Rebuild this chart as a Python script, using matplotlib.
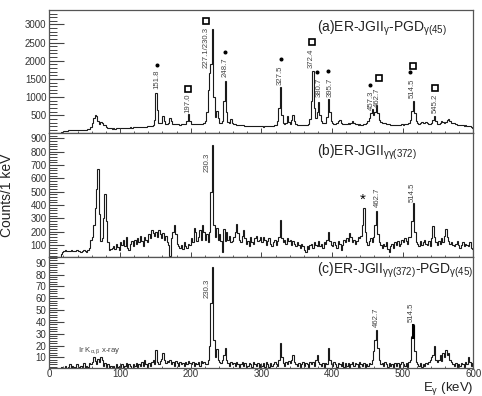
import numpy as np
import matplotlib
matplotlib.use('Agg')
import matplotlib.pyplot as plt

plt.rcParams['font.family'] = ['Liberation Sans', 'DejaVu Sans']
plt.rcParams['mathtext.fontset'] = 'custom'
plt.rcParams['mathtext.rm'] = 'Liberation Sans'
plt.rcParams['mathtext.it'] = 'Liberation Sans'

# spectra, 2 keV bins from 0 to 600 keV, counts per 1 keV
bin_width = 2
spec_a = [0, 0, 0, 0, 0, 0, 0, 0, 30, 50,
          60, 70, 80, 85, 90, 95, 100, 100, 95, 100,
          95, 100, 95, 100, 95, 100, 105, 110, 130, 180,
          280, 430, 500, 470, 330, 250, 310, 300, 220, 240,
          190, 160, 150, 140, 135, 140, 135, 140, 145, 150,
          145, 150, 155, 150, 160, 155, 160, 165, 160, 170,
          170, 165, 175, 180, 170, 180, 185, 175, 190, 195,
          200, 195, 210, 230, 360, 1100, 650, 300, 280, 290,
          480, 330, 260, 250, 300, 420, 340, 270, 255, 250,
          250, 255, 245, 260, 250, 250, 265, 330, 535, 330,
          260, 250, 255, 260, 250, 260, 265, 255, 270, 290,
          330, 600, 1200, 1650, 1900, 2880, 1000, 450, 620, 420,
          300, 280, 350, 900, 1450, 600, 320, 300, 400, 290,
          260, 250, 245, 240, 235, 230, 225, 220, 215, 210,
          215, 210, 205, 210, 200, 205, 200, 195, 200, 195,
          195, 190, 200, 195, 205, 200, 210, 205, 215, 230,
          240, 330, 700, 1290, 500, 280, 260, 300, 490, 320,
          270, 380, 515, 350, 260, 240, 230, 225, 230, 220,
          225, 230, 240, 260, 400, 900, 1705, 700, 420, 600,
          870, 500, 330, 300, 280, 280, 450, 950, 600, 330,
          280, 270, 260, 300, 350, 380, 300, 260, 250, 270,
          260, 280, 250, 300, 330, 280, 260, 250, 240, 250,
          245, 240, 250, 260, 300, 330, 420, 560, 674, 520,
          600, 792, 560, 380, 320, 300, 290, 280, 270, 260,
          250, 240, 235, 230, 225, 220, 225, 230, 240, 250,
          245, 250, 260, 270, 300, 380, 620, 883, 560, 350,
          280, 260, 300, 320, 280, 300, 320, 290, 260, 250,
          280, 380, 472, 330, 260, 260, 300, 330, 310, 280,
          320, 360, 400, 340, 300, 280, 300, 250, 240, 230,
          230, 220, 225, 215, 220, 210, 205, 200, 180, 160]

spec_b = [0, 0, 0, 0, 0, 0, 0, 0, 30, 50,
          55, 60, 52, 58, 55, 60, 55, 58, 52, 60,
          55, 58, 50, 55, 60, 55, 50, 60, 80, 140,
          160, 250, 380, 520, 672, 330, 130, 150, 300, 482,
          280, 120, 60, 70, 80, 95, 70, 110, 85, 60,
          120, 100, 140, 90, 160, 80, 60, 110, 130, 90,
          140, 110, 150, 120, 170, 130, 90, 160, 140, 120,
          180, 150, 210, 190, 170, 200, 160, 215, 180, 150,
          190, 140, 170, 120, 100, 15, 150, 200, 252, 180,
          110, 90, 80, 100, 70, 120, 90, 80, 110, 100,
          150, 120, 230, 200, 130, 160, 210, 140, 250, 200,
          140, 180, 120, 200, 500, 852, 250, 160, 225, 140,
          180, 130, 45, 220, 130, 200, 140, 170, 120, 130,
          160, 200, 260, 190, 140, 120, 170, 215, 150, 110,
          130, 90, 160, 120, 110, 150, 170, 130, 140, 160,
          120, 160, 140, 100, 130, 150, 110, 90, 120, 140,
          100, 130, 160, 285, 150, 120, 140, 110, 150, 130,
          140, 100, 130, 110, 90, 120, 100, 80, 110, 90,
          60, 50, 90, 70, 100, 110, 80, 120, 100, 90,
          130, 90, 110, 80, 120, 110, 140, 200, 130, 100,
          90, 120, 100, 80, 130, 110, 60, 100, 140, 120,
          150, 130, 190, 160, 120, 140, 110, 130, 160, 150,
          170, 250, 377, 200, 120, 100, 130, 150, 120, 160,
          250, 352, 180, 120, 100, 80, 110, 90, 120, 70,
          50, 90, 110, 80, 120, 100, 130, 90, 110, 140,
          120, 150, 130, 110, 160, 160, 280, 415, 200, 120,
          110, 90, 130, 100, 120, 140, 110, 100, 130, 90,
          150, 240, 160, 120, 100, 130, 110, 150, 120, 170,
          220, 160, 130, 110, 120, 100, 90, 110, 130, 100,
          80, 100, 120, 90, 110, 100, 90, 120, 80, 70]

spec_c = [0, 0, 0, 0, 0, 0, 0, 0, 2, 0,
          1, 3, 0, 2, 4, 1, 3, 2, 0, 4,
          2, 1, 3, 2, 5, 1, 3, 2, 5, 4,
          6, 10, 7, 4, 9, 6, 10, 8, 3, 5,
          2, 4, 1, 3, 2, 3, 1, 4, 2, 3,
          2, 4, 1, 3, 5, 2, 4, 3, 1, 4,
          3, 5, 2, 4, 3, 6, 3, 8, 4, 2,
          5, 3, 6, 8, 4, 16, 6, 4, 7, 9,
          14, 8, 5, 7, 6, 8, 4, 6, 3, 7,
          5, 3, 6, 4, 5, 3, 6, 4, 7, 5,
          4, 6, 3, 5, 4, 6, 3, 7, 5, 6,
          4, 4, 8, 20, 56, 86, 25, 10, 17, 8,
          6, 5, 8, 12, 18, 8, 5, 3, 6, 4,
          5, 3, 6, 4, 2, 4, 6, 3, 5, 2,
          3, 5, 4, 2, 6, 4, 3, 5, 2, 4,
          3, 5, 2, 6, 4, 2, 5, 3, 4, 6,
          4, 3, 8, 22, 10, 5, 3, 6, 4, 7,
          5, 8, 12, 6, 4, 3, 5, 2, 4, 6,
          3, 5, 4, 2, 6, 4, 6, 3, 8, 12,
          6, 4, 3, 5, 2, 5, 4, 18, 8, 4,
          3, 6, 4, 2, 5, 4, 3, 6, 2, 5,
          3, 5, 2, 4, 6, 3, 5, 4, 2, 6,
          4, 3, 5, 2, 4, 3, 5, 4, 8, 15,
          25, 33, 18, 8, 4, 5, 3, 6, 4, 2,
          5, 3, 4, 2, 5, 3, 5, 2, 4, 6,
          4, 3, 5, 2, 6, 8, 27, 37, 15, 6,
          4, 3, 5, 2, 4, 3, 5, 4, 6, 8,
          10, 12, 20, 8, 6, 8, 12, 7, 14, 10,
          16, 12, 14, 8, 6, 4, 3, 5, 2, 4,
          3, 5, 4, 2, 6, 4, 10, 6, 3, 5]

# peak labels: (text, x, y of label bottom)
labels_a = [('151.8', 152, 1210), ('197.0', 196.5, 560), ('227.1/230.3', 221.5, 1810),
            ('248.7', 248.5, 1560), ('327.5', 327.3, 1340), ('372.4', 371, 1810),
            ('380.7', 381.4, 1010), ('395.7', 397, 1010), ('457.3', 456, 655),
            ('462.7', 464, 740), ('514.5', 514, 985), ('545.2', 545.5, 575)]
dots_a_x = [152, 248.5, 327.3, 379, 394.6, 453, 510]
dots_a_y = [1870, 2250, 2045, 1680, 1725, 1340, 1680]
squares_a_x = [196.5, 221.5, 371, 466, 515, 545.5]
squares_a_y = [1222, 3103, 2511, 1513, 1861, 1250]

labels_b = [('230.3', 222.6, 650), ('462.7', 464, 385), ('514.5', 514, 422)]
labels_c = [('230.3', 222.6, 60), ('462.7', 463, 36), ('514.5', 512.6, 40)]

edges = np.arange(0, 600 + bin_width, bin_width)

fig = plt.figure(figsize=(4.82, 3.96), dpi=100)
ax_a = fig.add_axes([0.1023, 0.6629, 0.8800, 0.3131])
ax_b = fig.add_axes([0.1023, 0.3518, 0.8800, 0.3111])
ax_c = fig.add_axes([0.1023, 0.0715, 0.8800, 0.2803])

line_col = '#1a1a1a'
txt_col = '#444444'
for ax, spec in [(ax_a, spec_a), (ax_b, spec_b), (ax_c, spec_c)]:
    ax.stairs(spec, edges, color=line_col, lw=0.8)
    ax.set_xlim(0, 600)
    for s in ax.spines.values():
        s.set_color('#555555')
        s.set_linewidth(0.9)
    ax.tick_params(axis='y', which='major', direction='in', length=11, width=0.8,
                   color='#444444', labelsize=7, labelcolor='#333333', pad=2)
    ax.tick_params(axis='y', which='minor', direction='in', length=5.8, width=0.7, color='#444444')
    ax.tick_params(axis='x', which='major', direction='in', length=3.5, width=0.7,
                   color='#444444', labelsize=7, labelcolor='#333333', pad=1)
    ax.tick_params(axis='x', which='minor', direction='in', length=1.8, width=0.6, color='#444444')
    ax.set_xticks(np.arange(0, 601, 100))
    ax.set_xticks(np.arange(0, 601, 20), minor=True)

ax_a.set_ylim(0, 3410)
ax_a.set_yticks([500, 1000, 1500, 2000, 2500, 3000])
ax_a.set_yticks(np.arange(0, 3401, 100), minor=True)
ax_b.set_ylim(12, 936)
ax_b.set_yticks(np.arange(100, 901, 100))
ax_b.set_yticks(np.arange(20, 931, 20), minor=True)
ax_c.set_ylim(1.3, 95.1)
ax_c.set_yticks(np.arange(10, 91, 10))
ax_c.set_yticks(np.arange(2, 95, 2), minor=True)

ax_a.tick_params(axis='x', labelbottom=False)
ax_b.tick_params(axis='x', labelbottom=False)

# thick bin at 514.5 in panel (c)
i514 = 512 // bin_width
ax_c.stairs(spec_c[i514:i514 + 2], edges[i514:i514 + 3], color='black', lw=2.2, baseline=None)

lab_fs = 5.6
for ax, labs in [(ax_a, labels_a), (ax_b, labels_b), (ax_c, labels_c)]:
    for t, x, y in labs:
        ax.text(x, y, t, rotation=90, ha='center', va='bottom', fontsize=lab_fs, color=txt_col)

ax_a.plot(dots_a_x, dots_a_y, 'o', color='black', ms=1.9, ls='none')
ax_a.plot(squares_a_x, squares_a_y, 's', mfc='none', mec='black', mew=1.2, ms=4.7, ls='none')

ax_b.text(444, 437, '*', ha='center', va='center', fontsize=11, color='black')
ax_c.text(40, 14.5, r'Ir K$_{\alpha,\beta}$ x-ray', fontsize=5.6, color=txt_col)

title_fs = 10
ax_a.text(0.63, 0.82, r'(a)ER-JGII$_{\gamma}$-PGD$_{\gamma(45)}$', transform=ax_a.transAxes,
          fontsize=title_fs, color='#222222')
ax_b.text(0.63, 0.82, r'(b)ER-JGII$_{\gamma\gamma(372)}$', transform=ax_b.transAxes,
          fontsize=title_fs, color='#222222')
ax_c.text(0.63, 0.85, r'(c)ER-JGII$_{\gamma\gamma(372)}$-PGD$_{\gamma(45)}$', transform=ax_c.transAxes,
          fontsize=title_fs, color='#222222')

fig.text(0.014, 0.508, 'Counts/1 keV', rotation=90, ha='center', va='center', fontsize=10, color='#222222')
fig.text(0.982, 0.02, r'E$_{\gamma}$ (keV)', ha='right', va='center', fontsize=9.5, color='#222222')

fig.savefig('out.png', dpi=100)
